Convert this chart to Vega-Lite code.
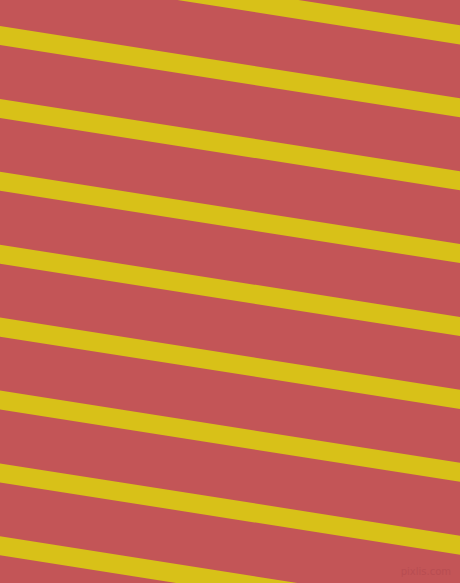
{
  "$schema": "https://vega.github.io/schema/vega-lite/v6.json",
  "autosize": {"type": "fit", "contains": "padding"},
  "width": 460,
  "height": 583,
  "padding": 0,
  "background": "#C35557",
  "config": {"view": {"stroke": null, "fill": "#C35557"}},
  "datasets": {
    "stripes": [
      {"stripe": 1, "x": -20, "y": -40.5}, {"stripe": 1, "x": 480, "y": 38.0},
      {"stripe": 2, "x": -20, "y": 32.4}, {"stripe": 2, "x": 480, "y": 110.9},
      {"stripe": 3, "x": -20, "y": 105.3}, {"stripe": 3, "x": 480, "y": 183.8},
      {"stripe": 4, "x": -20, "y": 178.2}, {"stripe": 4, "x": 480, "y": 256.7},
      {"stripe": 5, "x": -20, "y": 251.1}, {"stripe": 5, "x": 480, "y": 329.6},
      {"stripe": 6, "x": -20, "y": 324.0}, {"stripe": 6, "x": 480, "y": 402.5},
      {"stripe": 7, "x": -20, "y": 396.9}, {"stripe": 7, "x": 480, "y": 475.4},
      {"stripe": 8, "x": -20, "y": 469.8}, {"stripe": 8, "x": 480, "y": 548.3},
      {"stripe": 9, "x": -20, "y": 542.7}, {"stripe": 9, "x": 480, "y": 621.2}
    ],
    "mark": [
      {"label": "pixlis.com", "x": 451, "y": 572}
    ]
  },
  "layer": [
    {
      "data": {"name": "stripes"},
      "mark": {"type": "line", "color": "#D8C118", "strokeWidth": 18.8, "strokeCap": "butt", "clip": true},
      "encoding": {
        "x": {"field": "x", "type": "quantitative", "scale": {"domain": [0, 460], "nice": false, "zero": false}, "axis": null},
        "y": {"field": "y", "type": "quantitative", "scale": {"domain": [0, 583], "nice": false, "zero": false, "reverse": true}, "axis": null},
        "detail": {"field": "stripe", "type": "nominal"}
      }
    },
    {
      "data": {"name": "mark"},
      "mark": {"type": "text", "align": "right", "baseline": "middle", "font": "DejaVu Sans", "fontSize": 10, "color": "#B84D52"},
      "encoding": {
        "x": {"field": "x", "type": "quantitative"},
        "y": {"field": "y", "type": "quantitative"},
        "text": {"field": "label"}
      }
    }
  ]
}
